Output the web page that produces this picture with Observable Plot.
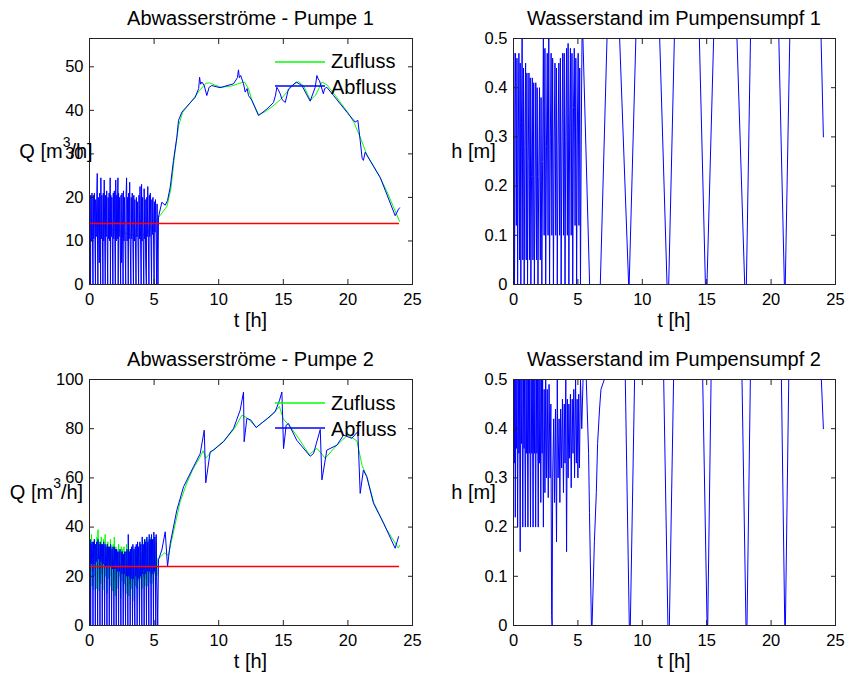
<!DOCTYPE html>
<html><head><meta charset="utf-8">
<script src="https://cdn.jsdelivr.net/npm/d3@7"></script>
<script src="https://cdn.jsdelivr.net/npm/@observablehq/plot@0.6"></script>
<style>
body{margin:0;background:#fff;}
#root{position:relative;width:846px;height:677px;overflow:hidden;font-family:"Liberation Sans",Arial,sans-serif;background:#fff;}
#root svg{position:absolute;}
</style></head><body><div id="root"></div>
<script>
// ---------- tick values ----------
const tTicks = [0, 5, 10, 15, 20, 25];
const q1Ticks = [0, 10, 20, 30, 40, 50];
const q2Ticks = [0, 20, 40, 60, 80, 100];
const hTicks = [0, 0.1, 0.2, 0.3, 0.4, 0.5];

// ---------- texts ----------
const titles = ["Abwasserströme - Pumpe 1", "Wasserstand im Pumpensumpf 1", "Abwasserströme - Pumpe 2", "Wasserstand im Pumpensumpf 2"];
const xLabel = "t [h]";
const hLabel = "h [m]";
const legendNames = ["Zufluss", "Abfluss"];

// ---------- Nennförderstrom (red lines) ----------
const nenn1 = [14];
const nenn2 = [24];
const nennT = [0, 24];

// ---------- Pumpe 1 : Zufluss ----------
const zufluss1T = [0,0.5,1,1.5,2,2.5,3,3.5,4,4.5,5,5.5,6,6.3,6.6,6.9,7.2,7.6,8,8.5,9,9.3,9.7,10.2,11,11.6,12,12.3,12.6,13.1,13.6,14.2,14.8,15.3,15.8,16.2,16.6,17.1,17.5,18,18.4,19,19.5,20,20.5,21,21.5,22,22.5,23,23.5,24];
const zufluss1Q = [14,13.6,13.2,12.8,12.4,12,11.6,11.3,11.1,12,14,16,18,22,30,36.5,39.5,41,42.5,44.5,46.2,46.3,45.8,45.3,45.6,46.2,46.5,45,42,39,39.7,41,42.5,44.3,46,46.6,45.5,42.3,43.5,46.5,45.8,43.5,41.5,39.5,37,33.5,29.5,27,24.5,21.5,18,14.5];

// ---------- Pumpe 1 : Abfluss ----------
const abfluss1T = [
0,0.04,0.08,0.1,0.14,0.19,0.23,0.27,0.29,0.33,
0.38,0.42,0.46,0.48,0.52,0.57,0.6,0.62,0.65,0.68,
0.72,0.76,0.79,0.83,0.86,0.88,0.92,0.96,1,1.04,
1.07,1.1,1.14,1.18,1.22,1.25,1.29,1.33,1.37,1.41,
1.44,1.48,1.52,1.56,1.6,1.62,1.65,1.69,1.73,1.77,
1.81,1.84,1.88,1.92,1.96,2,2.03,2.07,2.11,2.15,
2.2,2.22,2.25,2.29,2.33,2.37,2.41,2.44,2.48,2.52,
2.56,2.6,2.63,2.67,2.71,2.75,2.8,2.83,2.87,2.91,
2.95,3,3.03,3.07,3.11,3.15,3.2,3.23,3.27,3.31,
3.35,3.4,3.43,3.47,3.51,3.55,3.6,3.63,3.67,3.71,
3.75,3.8,3.83,3.87,3.91,3.95,4,4.03,4.07,4.11,
4.15,4.2,4.23,4.27,4.31,4.35,4.4,4.43,4.47,4.51,
4.55,4.6,4.63,4.67,4.71,4.75,4.8,4.83,4.87,4.91,
4.95,5,5.03,5.07,5.11,5.15,5.2,5.23,5.27,5.3,
5.34,5.6,5.86,6.04,6.25,6.5,6.76,6.89,7.15,7.54,
8.18,8.45,8.52,8.6,8.7,8.88,9.08,9.26,9.47,10.1,
11.15,11.45,11.53,11.6,11.7,11.92,12.05,12.2,12.31,12.57,
13.08,13.73,14.24,14.4,14.5,14.6,14.76,14.9,15.15,15.4,
16,16.44,17.08,17.47,17.6,17.7,17.8,18.1,18.2,18.37,
18.89,19.92,20.56,20.77,20.95,21.1,21.2,21.34,22.5,23.66,
23.92,24];
const abfluss1Q = [
21.5,10.5,0,20.5,10,21,11,0,20.5,10.5,
21,10,0,19.5,11,21,25.5,10,0,20,
10.5,5,21,10,0,24.5,10.5,20.5,11,0,
21,10,24,10.5,0,20.5,11,21.5,10,0,
20,10.5,21,10,24.5,0,20.5,11,20,10,
0,21,10.5,21.5,11,0,24,10,20.5,10.5,
24.5,0,21,11,20,10,0,20.5,5,21,
10.5,0,21.5,10,20,11,0,20.5,24.5,10,
20,0,21,10.5,23.5,10,0,20,10.5,21,
11,0,20.5,10,19.5,10.5,0,20,11,19,
10,0,20.5,10.5,22.5,11,0,23,10,20,
11,0,22,10.5,19.5,5,0,20,11,22.5,
11.5,0,20.5,11,21,12,0,19.5,11.5,20,
12,0,19,12,19.5,12.5,0,18.5,7.5,0,
15.5,18.9,18.2,19.3,22.4,28.5,33.8,37.7,39.6,40.9,
43,45,47.6,46,46.5,45.7,43.4,45.3,45.7,45.2,
46.1,47.5,49.3,47.5,48,46.1,44.2,45,43.4,42.3,
38.8,40.3,41.8,43.5,45.3,44.8,43.8,42.5,41.8,44.9,
46.5,45.7,42.1,45.3,48,47.2,46.8,43.8,45,45.3,
43.4,39.6,37.3,37.7,33.1,29,28.5,30.4,24.6,15.8,
17.3,17.6];

// ---------- Pumpe 1 : Wasserstand (NaN = above 0.5 m, outside the axes) ----------
const h1T = [
0,0.03,0.08,0.12,0.16,0.22,0.27,0.32,0.37,0.42,
0.47,0.52,0.57,0.62,0.67,0.72,0.78,0.83,0.88,0.94,
0.99,1.04,1.09,1.14,1.2,1.25,1.3,1.35,1.4,1.46,
1.51,1.57,1.62,1.68,1.73,1.79,1.84,1.9,1.96,2.02,
2.08,2.14,2.2,2.26,2.32,2.38,2.44,2.5,2.56,2.62,
2.68,2.74,2.8,2.86,2.92,2.98,3.04,3.1,3.16,3.22,
3.28,3.34,3.4,3.46,3.52,3.58,3.64,3.7,3.76,3.82,
3.88,3.94,4,4.06,4.12,4.18,4.24,4.3,4.36,4.42,
4.48,4.54,4.6,4.66,4.72,4.78,4.84,4.9,4.96,5.02,
5.08,5.14,5.2,5.26,5.32,5.35,
5.39,5.91,6.74,7.26,7.3,8.24,8.94,8.98,9.5,9.55,
11.35,11.92,12.05,12.49,12.55,14.43,14.9,15.02,15.54,15.6,
17.35,17.95,18.08,18.4,18.5,20.6,21.03,21.1,21.45,21.5,
23.88,24.06];
const h1 = [
0.33,0.47,0,0.35,0.47,0.12,0.46,0,0.3,0.47,
0.05,0.45,0,0.33,0.5,0.05,0.44,0,0.28,0.45,
0.05,0.43,0,0.25,0.43,0.05,0.42,0,0.22,0.42,
0.05,0.41,0,0.2,0.41,0.05,0.4,0,0.22,0.4,
0.05,0.38,0,0.25,0.5,0.1,0.48,0,0.28,0.47,
0.1,0.5,0,0.3,0.47,0.1,0.46,0,0.29,0.45,
0.1,0.44,0,0.28,0.45,0.1,0.46,0,0.29,0.47,
0.1,0.47,0,0.3,0.48,0.1,0.49,0,0.33,0.48,
0.1,0.47,0,0.36,0.48,0.12,0.46,0,0.32,0.47,
0.12,0.44,0,0.3,0.5,NaN,
0.5,0,0,0.5,NaN,0.5,0,0,0.5,NaN,
0.5,0,0,0.5,NaN,0.5,0,0,0.5,NaN,
0.5,0,0,0.5,NaN,0.5,0,0,0.5,NaN,
0.5,0.3];

// ---------- Pumpe 2 : Zufluss ----------
const zufluss2T = [
0,0.04,0.08,0.12,0.16,0.2,0.25,0.29,0.33,0.37,
0.41,0.45,0.5,0.54,0.58,0.62,0.66,0.7,0.75,0.79,
0.83,0.87,0.91,0.96,1,1.04,1.08,1.12,1.16,1.21,
1.25,1.29,1.33,1.37,1.42,1.46,1.5,1.54,1.58,1.62,
1.67,1.71,1.75,1.79,1.83,1.87,1.92,1.96,2,2.04,
2.08,2.12,2.17,2.21,2.25,2.29,2.33,2.37,2.42,2.46,
2.5,2.54,2.58,2.62,2.67,2.71,2.75,2.79,2.83,2.87,
2.92,2.96,3,3.04,3.08,3.12,3.17,3.21,3.25,3.29,
3.33,3.37,3.42,3.46,3.5,3.54,3.58,3.62,3.67,3.71,
3.75,3.79,3.83,3.87,3.92,3.96,4,4.04,4.08,4.12,
4.17,4.21,4.25,4.29,4.33,4.37,4.42,4.46,4.5,4.54,
4.58,4.62,4.67,4.71,4.75,4.79,4.83,4.87,4.92,4.96,
5,5.04,5.08,5.12,5.17,5.21,5.25,
5.32,5.8,6.1,6.5,7,7.5,8,8.5,8.8,9,
9.5,10.5,11.2,11.8,12.3,12.9,13.5,14,14.7,15,
15.5,16.2,17,17.6,18.25,19,19.5,20,20.7,21.1,
21.5,22,23,23.9,24];
const zufluss2Q = [
36,18,33,22,37,16,34,24,14.5,35,
20,33,23,15,36,19,39,22,14,34,
25,17,36,21,33,14.5,35,24,17,37,
20,33,23,13,34,19,32,24,16,35,
20,32,23,14,33,18,36,22,12,32,
19,31,23,15,33,20,30,22,11,32,
18,31,21,14,32,17,30,20,13,33,
16,30,19,12,31,17,29,21,15,32,
18,30,20,10,31,16,29,21,15,32,
18,31,20,9,33,19,30,22,15,34,
20,31,23,16,35,19,32,23,16,35,
21,33,24,17,36,20,33,24,17,35,
21,33,23,18,34,20,27,
27,29.5,28.5,38,50,57.5,63.5,68,71,68,
71,75.5,80,85.5,84,80.5,83,85,89,84,
81,76,69.5,72,68,72.5,75,77.5,75,65,
60,50,39,31.5,32.5];

// ---------- Pumpe 2 : Abfluss ----------
const abfluss2T = [
0,0.03,0.06,0.09,0.12,0.16,0.2,0.24,0.27,0.3,
0.34,0.38,0.42,0.45,0.48,0.52,0.56,0.6,0.63,0.66,
0.7,0.74,0.78,0.81,0.84,0.88,0.92,0.96,0.99,1.02,
1.06,1.1,1.14,1.17,1.2,1.24,1.28,1.32,1.35,1.38,
1.42,1.46,1.5,1.53,1.56,1.6,1.64,1.68,1.71,1.74,
1.78,1.82,1.86,1.89,1.92,1.96,2,2.04,2.07,2.1,
2.14,2.18,2.22,2.25,2.28,2.32,2.36,2.4,2.43,2.46,
2.5,2.54,2.58,2.61,2.64,2.68,2.72,2.76,2.79,2.82,
2.86,2.9,2.94,2.97,3,3.04,3.08,3.12,3.15,3.18,
3.22,3.26,3.3,3.33,3.36,3.4,3.44,3.48,3.51,3.54,
3.58,3.62,3.66,3.69,3.72,3.76,3.8,3.84,3.87,3.9,
3.94,3.98,4.02,4.05,4.08,4.12,4.16,4.2,4.23,4.26,
4.3,4.34,4.38,4.41,4.44,4.48,4.52,4.56,4.59,4.62,
4.66,4.7,4.74,4.77,4.8,4.84,4.88,4.92,4.95,4.98,
5.02,5.06,5.1,5.13,5.16,5.2,5.24,5.28,
5.34,5.6,5.86,6.04,6.25,6.76,7.28,8.05,8.57,8.88,
9,9.34,9.6,10.37,11.15,11.66,11.92,11.97,12.18,12.49,
12.9,13.73,14.37,14.71,14.89,15.02,15.22,15.4,16.04,17.08,
17.34,17.86,17.99,18.37,19.15,19.66,20.3,20.77,20.95,21.2,
21.46,21.98,22.76,23.66,23.92];
const abfluss2Q = [
34,26,35,0,33,25,34,27,0,34,
25,35,26,0,33,26,34,25,0,35,
27,33,25,0,34,26,33,24,0,33,
25,34,26,0,33,24,32,26,0,33,
24,32,25,0,32,24,33,25,0,31,
23,32,24,0,32,23,31,24,0,31,
22,30,23,0,30,22,31,16,0,30,
21,30,22,0,29,21,30,15,0,30,
20,31,21,0,37,20,30,18,0,31,
19,32,20,0,33,19,31,7,0,32,
20,33,18,0,34,19,32,21,0,34,
20,33,22,0,36,21,33,22,0,35,
21,34,23,0,36,22,34,17,0,37,
22,35,24,0,37,21,35,23,0,38,
22,36,20,0,37,20,12,0,
26.7,30.7,38.1,24,33.4,46.9,56.4,64.5,69.9,79.4,
58,70.6,71.3,74.7,80.1,87.5,94.9,74.7,84.2,83.5,
80.5,84,86.9,91.6,94.9,71.9,81.4,82.1,75.3,68.8,
69.9,79.7,59.2,71.3,73.3,77.4,76.1,78.8,53.7,63.2,
60.5,49.7,41.6,31.4,36.1];

// ---------- Pumpe 2 : Wasserstand ----------
const h2T = [
0,0.03,0.07,0.1,0.14,0.18,0.23,0.27,0.32,0.37,
0.42,0.46,0.52,0.57,0.62,0.66,0.72,0.77,0.82,0.86,
0.92,0.97,1.02,1.06,1.12,1.17,1.22,1.26,1.32,1.37,
1.42,1.46,1.52,1.57,1.62,1.66,1.72,1.77,1.82,1.86,
1.92,1.97,2.02,2.06,2.12,2.17,2.22,2.26,2.32,2.38,
2.44,2.5,2.56,2.62,2.7,2.76,2.84,2.9,2.96,3,
3.04,3.12,3.18,3.26,3.34,3.4,3.46,3.54,3.6,3.66,
3.74,3.8,3.88,3.94,4,4.06,4.12,4.18,4.24,4.3,
4.36,4.42,4.48,4.56,4.62,4.68,4.74,4.82,4.88,4.94,
5,5.06,5.12,5.2,5.3,5.4,5.45,
5.65,5.83,5.9,6.05,6.1,6.28,6.43,6.53,6.68,6.79,7.05,7.1,
8.68,8.99,9.07,9.4,9.45,11.66,11.99,12.1,12.43,12.5,
14.69,15.03,15.08,15.34,15.4,17.74,18.05,18.13,18.39,18.45,
20.8,21.06,21.11,21.37,21.45,23.9,24.06];
const h2 = [
0.38,0.5,0.33,0.5,0.22,0.5,0.36,0.5,0.2,0.5,
0.35,0.5,0.15,0.5,0.37,0.5,0.2,0.5,0.36,0.5,
0.2,0.5,0.35,0.5,0.2,0.5,0.35,0.5,0.2,0.5,
0.35,0.5,0.2,0.5,0.35,0.5,0.2,0.5,0.35,0.5,
0.2,0.5,0.33,0.5,0.25,0.5,0.35,0.5,0.2,0.48,
0.27,0.5,0.3,0.48,0.26,0.49,0.3,0.45,0.02,0,
0.3,0.42,0.25,0.44,0.17,0.5,0.3,0.42,0.25,0.44,
0.32,0.46,0.27,0.45,0.33,0.5,0.15,0.46,0.3,0.45,
0.34,0.47,0.28,0.46,0.35,0.48,0.3,0.5,0.33,0.46,
0.3,0.47,0.32,0.5,0.4,0.5,NaN,
0.5,0.35,0.23,0,0,0.17,0.27,0.37,0.44,0.48,0.5,NaN,
0.5,0,0,0.5,NaN,0.5,0,0,0.5,NaN,
0.5,0,0,0.5,NaN,0.5,0,0,0.5,NaN,
0.5,0,0,0.5,NaN,0.5,0.4];

// ---------- helpers ----------
const rows = (T, V) => T.map((t, i) => ({t, v: V[i]}));
const GREEN = "#00ff00", BLUE = "#0000ff", RED = "#ff0000";
const FONT = "Liberation Sans, Arial, Helvetica, sans-serif";
const root = document.getElementById("root");
const ML = 50, MT = 10, MR = 10, MB = 35;

function panel({left, top, w, h, yDomain, yTicks, marks}) {
  const svg = Plot.plot({
    width: w + ML + MR, height: h + MT + MB,
    marginLeft: ML, marginTop: MT, marginRight: MR, marginBottom: MB,
    style: {fontFamily: FONT, fontSize: "16.5px", color: "#000", background: "transparent", overflow: "visible"},
    x: {domain: [0, 25]},
    y: {domain: yDomain},
    marks: [
      ...marks,
      Plot.frame({stroke: "#222"}),
      Plot.axisX({ticks: tTicks, tickSize: -5, tickPadding: 14, label: null, tickFormat: d => String(d), fontSize: 16.5, stroke: "#222"}),
      Plot.axisX({anchor: "top", ticks: tTicks, tickSize: -5, tickFormat: () => "", label: null, stroke: "#222"}),
      Plot.axisY({ticks: yTicks, tickSize: -5, tickPadding: 11, label: null, tickFormat: d => String(d), fontSize: 16.5, stroke: "#222"}),
      Plot.axisY({anchor: "right", ticks: yTicks, tickSize: -5, tickFormat: () => "", label: null, stroke: "#222"})
    ]
  });
  svg.style.left = (left - ML) + "px";
  svg.style.top = (top - MT) + "px";
  root.append(svg);
}

const lineOpts = (stroke) => ({x: "t", y: "v", stroke, strokeWidth: 1, clip: true});

// Panel 1: flows pump 1
panel({left: 89, top: 38, w: 323, h: 246, yDomain: [0, 56.5], yTicks: q1Ticks, marks: [
  Plot.line(rows(zufluss1T, zufluss1Q), lineOpts(GREEN)),
  Plot.line(rows(abfluss1T, abfluss1Q), lineOpts(BLUE)),
  Plot.ruleY(nenn1, {x1: nennT[0], x2: nennT[1], stroke: RED, strokeWidth: 1.5})
]});
// Panel 2: level pump 1
panel({left: 513, top: 38, w: 322, h: 246, yDomain: [0, 0.5], yTicks: hTicks, marks: [
  Plot.line(rows(h1T, h1), lineOpts(BLUE))
]});
// Panel 3: flows pump 2
panel({left: 89, top: 379, w: 323, h: 246, yDomain: [0, 100], yTicks: q2Ticks, marks: [
  Plot.line(rows(zufluss2T, zufluss2Q), lineOpts(GREEN)),
  Plot.line(rows(abfluss2T, abfluss2Q), lineOpts(BLUE)),
  Plot.ruleY(nenn2, {x1: nennT[0], x2: nennT[1], stroke: RED, strokeWidth: 1.5})
]});
// Panel 4: level pump 2
panel({left: 513, top: 379, w: 322, h: 246, yDomain: [0, 0.5], yTicks: hTicks, marks: [
  Plot.line(rows(h2T, h2), lineOpts(BLUE))
]});

// ---------- overlay: titles, labels, legends ----------
const NS = "http://www.w3.org/2000/svg";
const ov = document.createElementNS(NS, "svg");
ov.setAttribute("width", 846); ov.setAttribute("height", 677);
ov.style.left = "0px"; ov.style.top = "0px";
ov.setAttribute("font-family", FONT);
root.append(ov);
function txt(x, y, s, anchor = "middle", size = 20) {
  const t = document.createElementNS(NS, "text");
  t.setAttribute("x", x); t.setAttribute("y", y);
  t.setAttribute("text-anchor", anchor); t.setAttribute("font-size", size);
  t.setAttribute("fill", "#000");
  t.textContent = s; ov.append(t); return t;
}
function qLabel(cx, y) {
  const t = document.createElementNS(NS, "text");
  t.setAttribute("x", cx); t.setAttribute("y", y);
  t.setAttribute("text-anchor", "middle"); t.setAttribute("font-size", 20); t.setAttribute("fill", "#000");
  t.innerHTML = 'Q [m<tspan dy="-11" font-size="14">3</tspan><tspan dy="11">/h]</tspan>';
  ov.append(t);
}
function seg(x1, x2, y, color) {
  const l = document.createElementNS(NS, "line");
  l.setAttribute("x1", x1); l.setAttribute("x2", x2); l.setAttribute("y1", y); l.setAttribute("y2", y);
  l.setAttribute("stroke", color); l.setAttribute("stroke-width", 1.3);
  ov.append(l);
}
// titles
txt(250.5, 25, titles[0]); txt(674, 25, titles[1]);
txt(250.5, 366, titles[2]); txt(674, 366, titles[3]);
// x labels
txt(250.5, 327, xLabel); txt(674, 327, xLabel);
txt(250.5, 668, xLabel); txt(674, 668, xLabel);
// y labels (horizontal, as in the original)
qLabel(56, 158); qLabel(46.5, 499);
txt(473.5, 158, hLabel); txt(473.5, 499, hLabel);
// legends (no box, transparent)
[[62, 86, 68.3, 94.3], [403, 428, 410, 436]].forEach(([yz, ya, tz, ta]) => {
  seg(275, 325, yz, GREEN);
  seg(275, 325, ya, BLUE);
  txt(331, tz, legendNames[0], "start");
  txt(331, ta, legendNames[1], "start");
});
</script></body></html>
